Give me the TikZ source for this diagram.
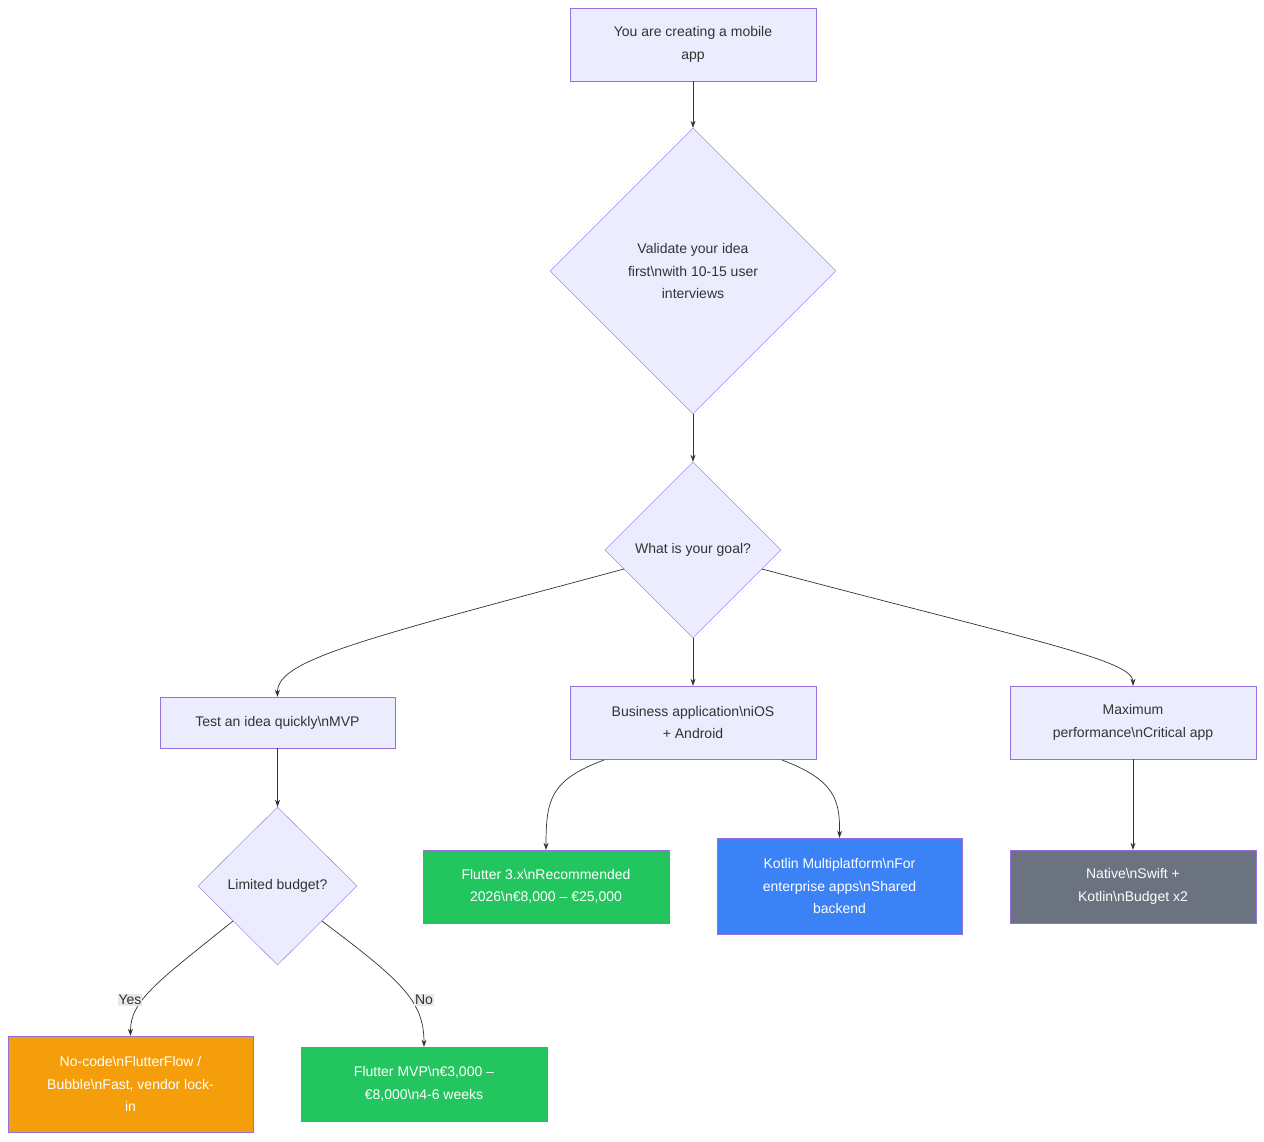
\documentclass[tikz,border=0pt]{standalone}
\usepackage{fontspec}
\setmainfont{Liberation Sans}
\usetikzlibrary{shapes.geometric,arrows.meta}
\definecolor{nfill}{HTML}{ECECFF}
\definecolor{nline}{HTML}{9370DB}
\definecolor{cgreen}{HTML}{22C55E}
\definecolor{cblue}{HTML}{3B82F6}
\definecolor{cgray}{HTML}{6B7280}
\definecolor{corange}{HTML}{F59E0B}
\definecolor{ctext}{HTML}{333333}
\definecolor{lblbg}{HTML}{E8E8E8}
\begin{document}
\begin{tikzpicture}[x=1pt,y=-1pt,
  every node/.style={font=\fontsize{14}{22.5}\selectfont,text=ctext,align=center},
  boxn/.style={draw=nline,fill=nfill,rectangle,inner sep=0},
  dia/.style={draw=nline,fill=nfill,diamond,inner sep=0},
  res/.style={draw=nline,rectangle,inner sep=0,text=white},
  conn/.style={draw=ctext,line width=0.7pt,-{Stealth[length=7pt,width=5pt]}},
  lbl/.style={fill=lblbg,inner sep=1pt,text=ctext}]
\useasboundingbox (0,0) rectangle (1264,1141);
\fill[white] (0,0) rectangle (1264,1141);
\node[boxn,minimum width=246,minimum height=73] (start) at (693,44.5) {You are creating a mobile\\app};
\node[dia,minimum width=286,minimum height=286] (val) at (693,271) {Validate your idea\\first\textbackslash nwith 10-15 user\\interviews};
\node[dia,minimum width=176,minimum height=176] (goal) at (693,550) {What is your goal?};
\node[boxn,minimum width=235,minimum height=51] (test) at (277.5,722.5) {Test an idea quickly\textbackslash nMVP};
\node[boxn,minimum width=246,minimum height=73] (biz) at (693,722.5) {Business application\textbackslash niOS\\+ Android};
\node[boxn,minimum width=246,minimum height=73] (max) at (1133,722.5) {Maximum\\performance\textbackslash nCritical app};
\node[dia,minimum width=159,minimum height=158] (lim) at (277.5,886) {Limited budget?};
\node[res,fill=cgreen,minimum width=246,minimum height=73] (flut) at (546,886.5) {Flutter 3.x\textbackslash nRecommended\\2026\textbackslash n€8,000 – €25,000};
\node[res,fill=cblue,minimum width=245,minimum height=96] (kot) at (839.5,886) {Kotlin Multiplatform\textbackslash nFor\\enterprise apps\textbackslash nShared\\backend};
\node[res,fill=cgray,minimum width=246,minimum height=73] (nat) at (1133,886.5) {Native\textbackslash nSwift +\\Kotlin\textbackslash nBudget x2};
\node[res,fill=corange,minimum width=245,minimum height=96] (nocode) at (130.5,1084) {No-code\textbackslash nFlutterFlow /\\Bubble\textbackslash nFast, vendor lock-\\in};
\node[res,fill=cgreen,minimum width=246,minimum height=74] (fmvp) at (424,1084) {Flutter MVP\textbackslash n€3,000 –\\€8,000\textbackslash n4-6 weeks};
\coordinate (gl) at (624,569);
\coordinate (gr) at (762,569);
\coordinate (bl) at (604,760);
\coordinate (br) at (782,760);
\coordinate (ll) at (233,921);
\coordinate (lr) at (322,921);
\draw[conn] (start) -- (val);
\draw[conn] (val) -- (goal);
\draw[conn] (goal) -- (biz);
\draw[conn] (gl) .. controls (360,640) and (277,660) .. (test.north);
\draw[conn] (gr) .. controls (1030,640) and (1133,660) .. (max.north);
\draw[conn] (max) -- (nat);
\draw[conn] (test) -- (lim);
\draw[conn] (bl) .. controls (550,780) and (546,800) .. (flut.north);
\draw[conn] (br) .. controls (835,780) and (840,800) .. (kot.north);
\draw[conn] (ll) .. controls (160,980) and (130,1000) .. (nocode.north);
\draw[conn] (lr) .. controls (400,980) and (424,1000) .. (fmvp.north);
\node[lbl] (yes) at (130,1000) {Yes};
\node[lbl] (no) at (424,1000) {No};
\end{tikzpicture}
\end{document}
